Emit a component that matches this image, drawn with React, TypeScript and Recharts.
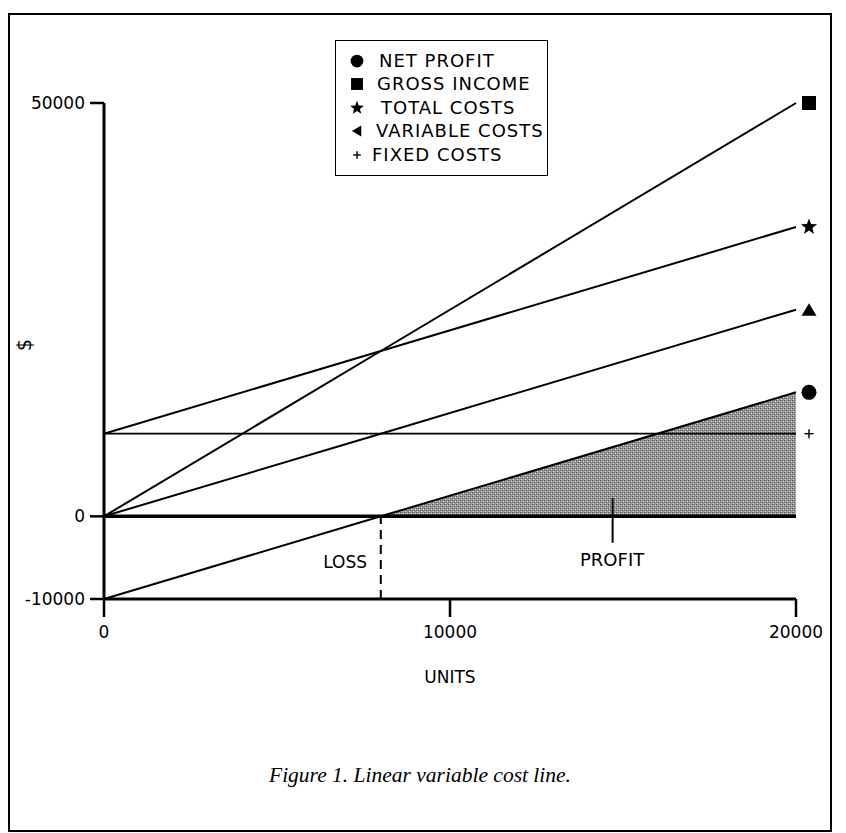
import React from 'react';
import {
  ComposedChart,
  Line,
  Area,
  XAxis,
  YAxis,
  ReferenceLine,
  ReferenceDot,
  Label,
} from 'recharts';

// ---- data ----
const units = [0, 8000, 20000];
const netProfit = [-10000, 0, 15000];
const grossIncome = [0, 20000, 50000];
const totalCosts = [10000, 20000, 35000];
const variableCosts = [0, 10000, 25000];
const fixedCosts = [10000, 10000, 10000];
const profitShade = [null, 0, 15000];

const xTicks = [0, 10000, 20000];
const yTicks = [-10000, 0, 50000];
const breakEvenUnits = 8000;
const profitPointerUnits = 14700;
const profitPointerTop = 2200;
const profitPointerBottom = -3200;

const legendNames = ['NET PROFIT', 'GROSS INCOME', 'TOTAL COSTS', 'VARIABLE COSTS', 'FIXED COSTS'];
const legendKinds = ['circle', 'square', 'star', 'left', 'plus'];

const data = units.map((u, i) => ({
  u,
  net: netProfit[i],
  gross: grossIncome[i],
  total: totalCosts[i],
  variable: variableCosts[i],
  fixed: fixedCosts[i],
  shade: profitShade[i],
}));

const FONT = '"DejaVu Sans", sans-serif';

function starPoints(cx: number, cy: number, R: number, r: number) {
  const pts: string[] = [];
  for (let k = 0; k < 10; k++) {
    const ang = -Math.PI / 2 + (k * Math.PI) / 5;
    const rad = k % 2 === 0 ? R : r;
    pts.push(`${cx + rad * Math.cos(ang)},${cy + rad * Math.sin(ang)}`);
  }
  return pts.join(' ');
}

function Marker({ kind, cx, cy, s = 1 }: { kind: string; cx: number; cy: number; s?: number }) {
  switch (kind) {
    case 'circle':
      return <circle cx={cx} cy={cy} r={7.5 * s} fill="#000" />;
    case 'square':
      return <rect x={cx - 7 * s} y={cy - 7 * s} width={14 * s} height={14 * s} fill="#000" />;
    case 'star':
      return <polygon points={starPoints(cx, cy, 8.5 * s, 3.6 * s)} fill="#000" />;
    case 'up':
      return (
        <polygon
          points={`${cx - 7.5 * s},${cy + 6 * s} ${cx + 7.5 * s},${cy + 6 * s} ${cx},${cy - 6.5 * s}`}
          fill="#000"
        />
      );
    case 'left':
      return (
        <polygon
          points={`${cx + 5 * s},${cy - 6.5 * s} ${cx + 5 * s},${cy + 6.5 * s} ${cx - 6 * s},${cy}`}
          fill="#000"
        />
      );
    case 'plus':
      return (
        <g stroke="#000" strokeWidth={1.4}>
          <line x1={cx - 4.5 * s} y1={cy} x2={cx + 4.5 * s} y2={cy} />
          <line x1={cx} y1={cy - 4.5 * s} x2={cx} y2={cy + 4.5 * s} />
        </g>
      );
    default:
      return null;
  }
}

const endMarkers = [
  { kind: 'square', y: grossIncome[grossIncome.length - 1] },
  { kind: 'star', y: totalCosts[totalCosts.length - 1] },
  { kind: 'up', y: variableCosts[variableCosts.length - 1] },
  { kind: 'circle', y: netProfit[netProfit.length - 1] },
  { kind: 'plus', y: fixedCosts[fixedCosts.length - 1] },
];

export default function App() {
  const xMax = units[units.length - 1];
  return (
    <div
      style={{
        position: 'absolute',
        left: 0,
        top: 0,
        width: 846,
        height: 833,
        background: '#fff',
        overflow: 'hidden',
      }}
    >
      {/* frame */}
      <div
        style={{
          position: 'absolute',
          left: 8,
          top: 13,
          width: 824,
          height: 819,
          border: '2px solid #000',
          boxSizing: 'border-box',
        }}
      />
      <div style={{ position: 'absolute', left: 0, top: 0 }}>
        <ComposedChart
          width={846}
          height={833}
          data={data}
          margin={{ top: 103, right: 50, bottom: 134, left: 14 }}
        >
          <defs>
            <pattern id="stipple" width="4" height="4" patternUnits="userSpaceOnUse">
              <rect width="4" height="4" fill="#9a9a9a" />
              <rect x="0" y="0" width="1" height="1" fill="#555" />
              <rect x="2" y="2" width="1" height="1" fill="#555" />
              <rect x="1" y="3" width="1" height="1" fill="#dcdcdc" />
              <rect x="3" y="1" width="1" height="1" fill="#dcdcdc" />
              <rect x="2" y="0" width="1" height="1" fill="#707070" />
              <rect x="0" y="2" width="1" height="1" fill="#707070" />
            </pattern>
          </defs>
          <XAxis
            dataKey="u"
            type="number"
            domain={[0, xMax]}
            ticks={xTicks}
            height={100}
            tickSize={18}
            tickMargin={9}
            axisLine={{ stroke: '#000', strokeWidth: 3 }}
            tickLine={{ stroke: '#000', strokeWidth: 2.5 }}
            tick={{ fill: '#000', fontSize: 17, fontFamily: FONT }}
          >
            <Label
              value="UNITS"
              position="insideTop"
              offset={72}
              fill="#000"
              fontSize={17}
              fontFamily={FONT}
            />
          </XAxis>
          <YAxis
            type="number"
            domain={[yTicks[0], yTicks[yTicks.length - 1]]}
            ticks={yTicks}
            width={90}
            tickSize={14}
            tickMargin={5}
            axisLine={{ stroke: '#000', strokeWidth: 3 }}
            tickLine={{ stroke: '#000', strokeWidth: 2.5 }}
            tick={{ fill: '#000', fontSize: 17, fontFamily: FONT }}
          >
            <Label
              value="$"
              angle={-90}
              position="insideLeft"
              offset={10}
              fill="#000"
              fontSize={19}
              fontFamily={FONT}
            />
          </YAxis>
          <Area
            dataKey="shade"
            type="linear"
            stroke="none"
            fill="#999"
            fillOpacity={1}
            baseValue={0}
            isAnimationActive={false}
            dot={false}
            activeDot={false}
          />
          <Area
            dataKey="shade"
            type="linear"
            stroke="none"
            fill="url(#stipple)"
            fillOpacity={1}
            baseValue={0}
            isAnimationActive={false}
            dot={false}
            activeDot={false}
          />
          <Line dataKey="gross" type="linear" stroke="#000" strokeWidth={2} dot={false} activeDot={false} isAnimationActive={false} />
          <Line dataKey="total" type="linear" stroke="#000" strokeWidth={2} dot={false} activeDot={false} isAnimationActive={false} />
          <Line dataKey="variable" type="linear" stroke="#000" strokeWidth={2} dot={false} activeDot={false} isAnimationActive={false} />
          <Line dataKey="fixed" type="linear" stroke="#000" strokeWidth={1.8} dot={false} activeDot={false} isAnimationActive={false} />
          <Line dataKey="net" type="linear" stroke="#000" strokeWidth={2} dot={false} activeDot={false} isAnimationActive={false} />
          <ReferenceLine y={0} stroke="#000" strokeWidth={3.5} />
          <ReferenceLine
            segment={[
              { x: breakEvenUnits, y: yTicks[0] },
              { x: breakEvenUnits, y: 0 },
            ]}
            stroke="#000"
            strokeWidth={2}
            strokeDasharray="9 6"
          />
          <ReferenceLine
            segment={[
              { x: profitPointerUnits, y: profitPointerTop },
              { x: profitPointerUnits, y: profitPointerBottom },
            ]}
            stroke="#000"
            strokeWidth={2}
          />
          {endMarkers.map((m) => (
            <ReferenceDot
              key={m.kind}
              x={xMax}
              y={m.y}
              r={0}
              ifOverflow="visible"
              shape={(p: any) => <Marker kind={m.kind} cx={p.cx + 13} cy={p.cy} />}
            />
          ))}
        </ComposedChart>
      </div>

      {/* LOSS / PROFIT annotations */}
      <div
        style={{
          position: 'absolute',
          right: 846 - 367,
          top: 552,
          fontFamily: FONT,
          fontSize: 17,
          lineHeight: '20px',
          color: '#000',
        }}
      >
        LOSS
      </div>
      <div
        style={{
          position: 'absolute',
          left: 580,
          top: 550,
          fontFamily: FONT,
          fontSize: 18,
          lineHeight: '20px',
          color: '#000',
        }}
      >
        PROFIT
      </div>

      {/* legend */}
      <div
        style={{
          position: 'absolute',
          left: 335,
          top: 40,
          width: 213,
          height: 136,
          border: '1.5px solid #000',
          boxSizing: 'border-box',
          background: '#fff',
        }}
      >
        {legendNames.map((name, i) => {
          const cy = [20, 42.5, 66.5, 89.5, 114][i];
          return (
            <div key={name}>
              <svg
                width={24}
                height={24}
                style={{ position: 'absolute', left: 9, top: cy - 12 }}
              >
                <Marker kind={legendKinds[i]} cx={12} cy={12} s={0.85} />
              </svg>
              <div
                style={{
                  position: 'absolute',
                  left: [43, 41, 45, 40, 36][i],
                  top: cy - 11,
                  fontFamily: FONT,
                  fontSize: 18,
                  letterSpacing: '1px',
                  lineHeight: '22px',
                  whiteSpace: 'nowrap',
                  color: '#000',
                }}
              >
                {name}
              </div>
            </div>
          );
        })}
      </div>

      {/* caption */}
      <div
        style={{
          position: 'absolute',
          left: 8,
          width: 824,
          top: 762,
          textAlign: 'center',
          fontFamily: '"Liberation Serif", serif',
          fontStyle: 'italic',
          fontSize: 21.5,
          lineHeight: '26px',
          color: '#000',
        }}
      >
        Figure 1. Linear variable cost line.
      </div>
    </div>
  );
}
